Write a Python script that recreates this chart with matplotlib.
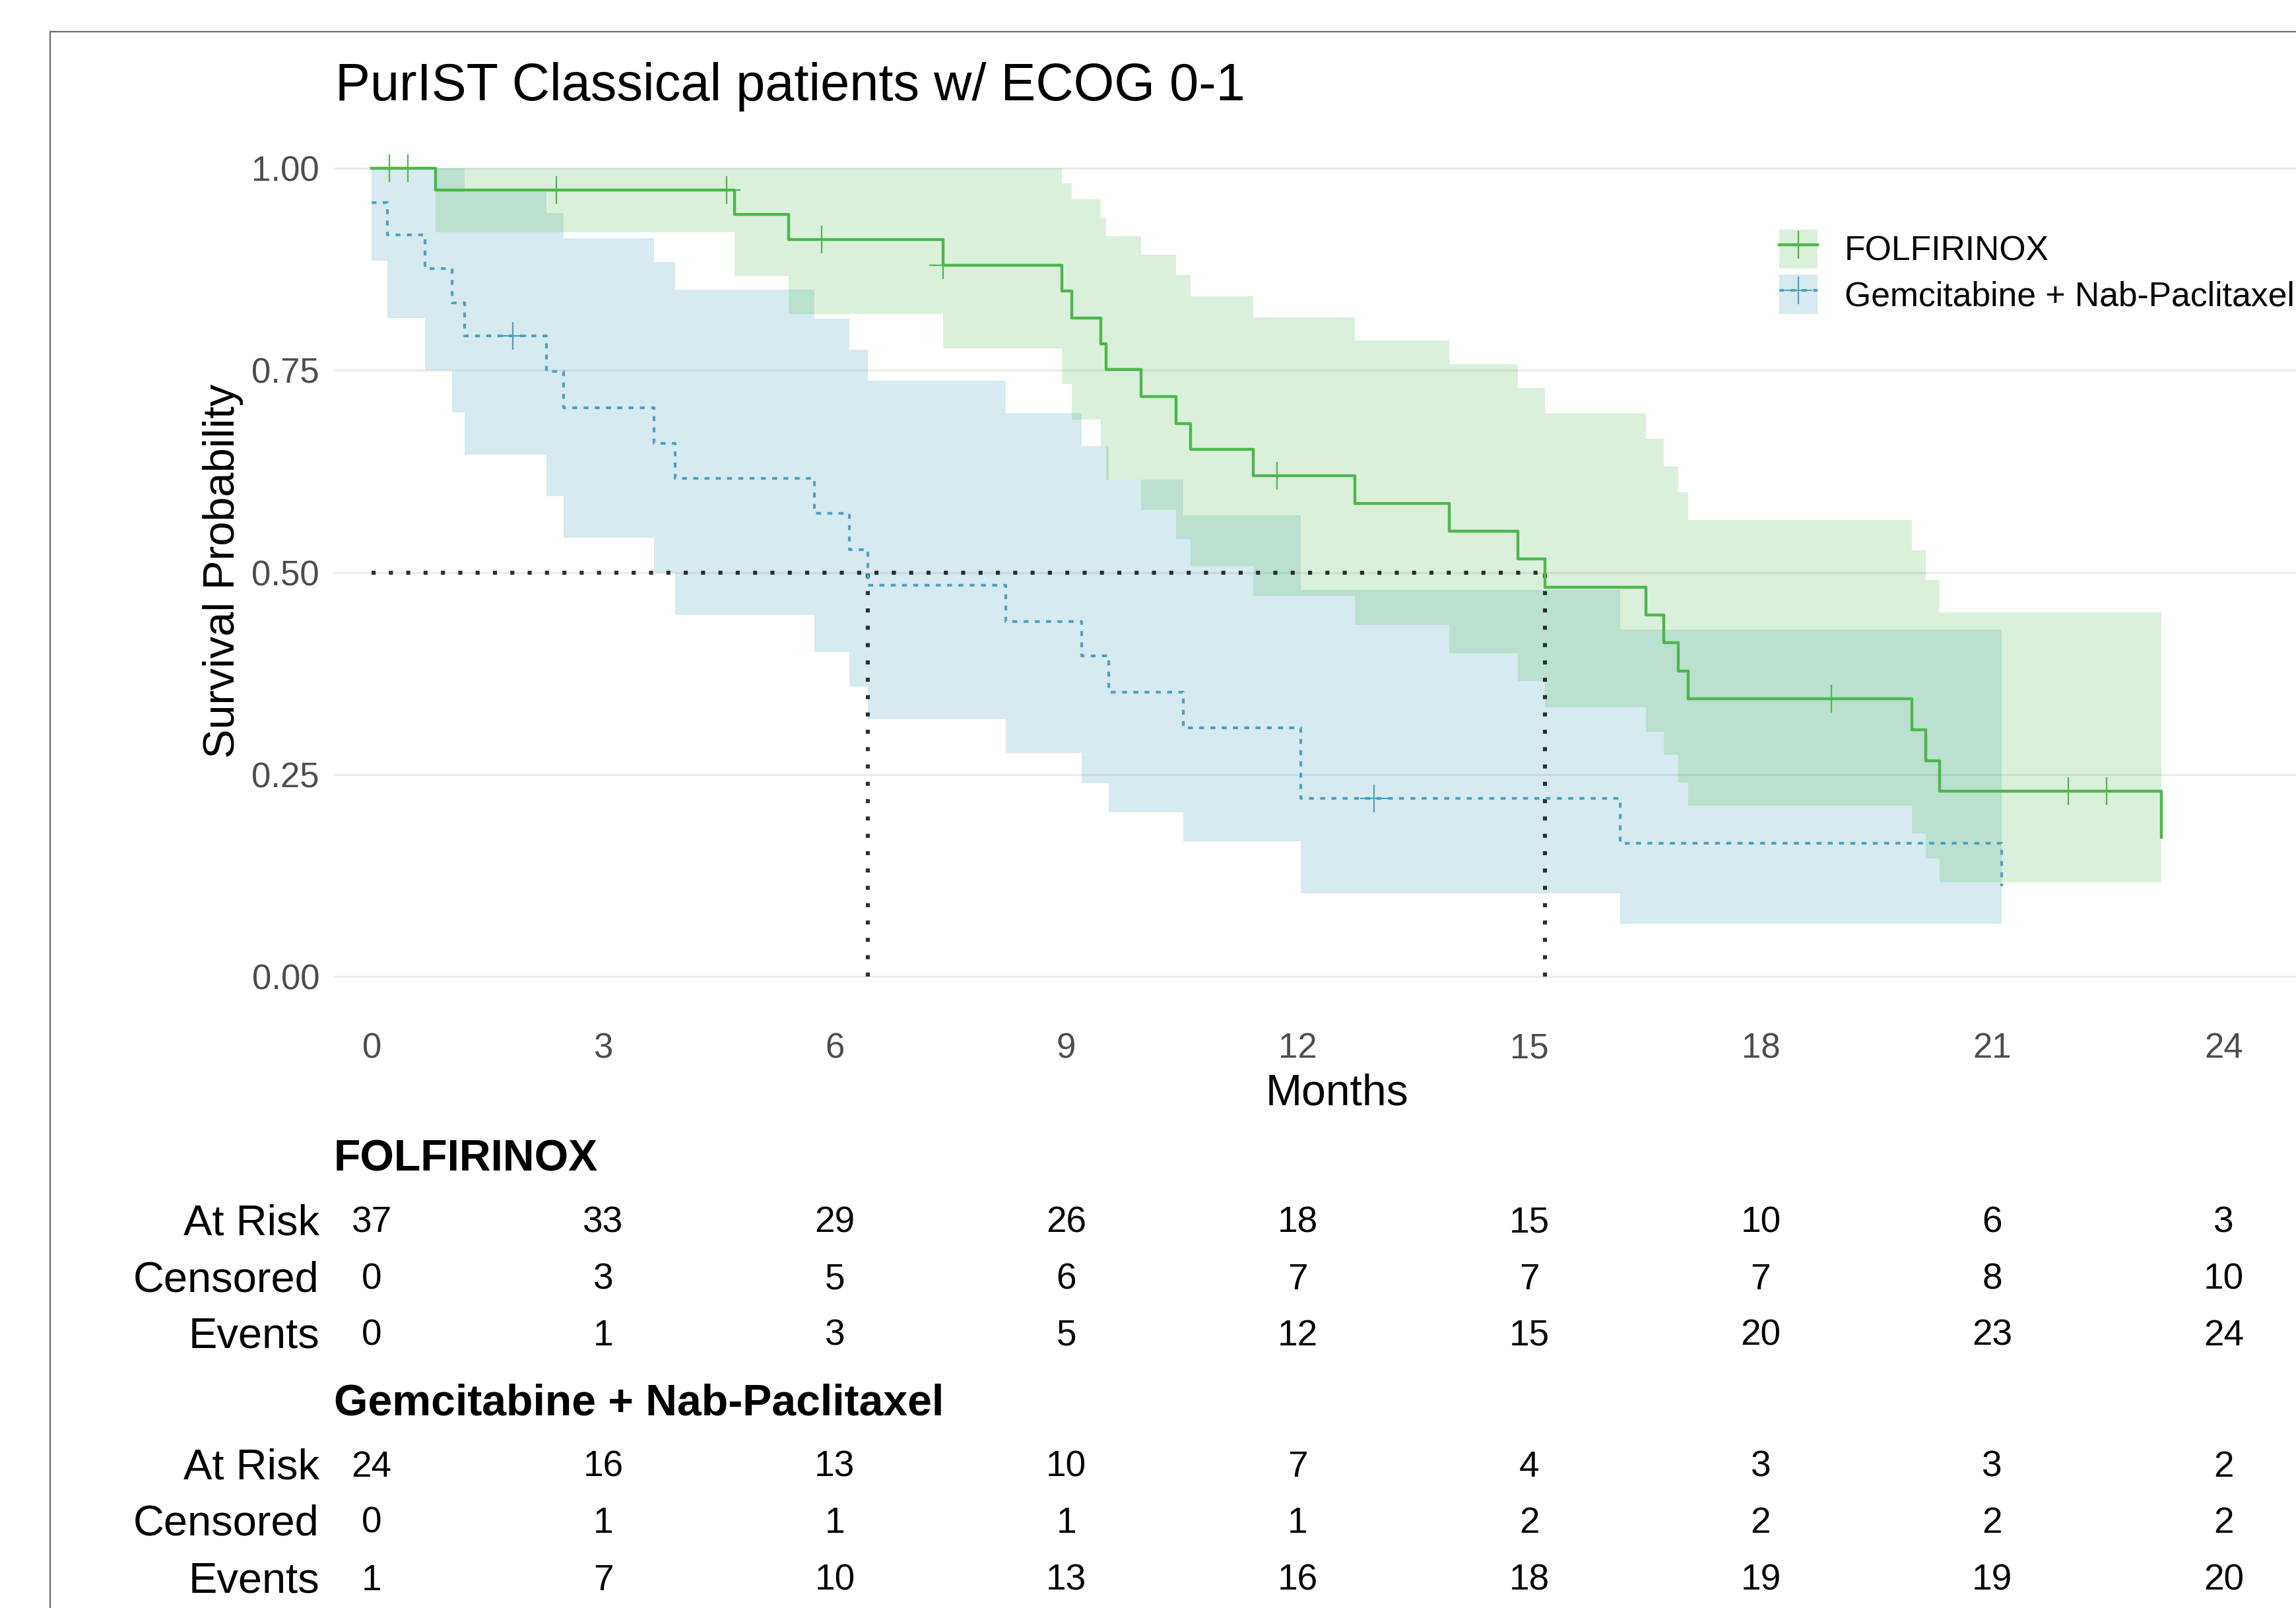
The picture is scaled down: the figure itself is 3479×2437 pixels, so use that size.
import numpy as np
import matplotlib
matplotlib.use('Agg')
import matplotlib.pyplot as plt
from matplotlib.lines import Line2D
from matplotlib.patches import Patch
from matplotlib.transforms import blended_transform_factory

plt.rcParams['font.family'] = ['Liberation Sans', 'DejaVu Sans']

# ---------------- data ----------------
groups = ["FOLFIRINOX", "Gemcitabine + Nab-Paclitaxel"]

# FOLFIRINOX Kaplan-Meier step curve with 95% CI
g_time = [0, 0.83, 4.70, 5.40, 7.40, 8.94, 9.07, 9.45, 9.52, 9.97, 10.42, 10.61,
          11.42, 12.74, 13.96, 14.85, 15.20, 16.51, 16.74, 16.93, 17.06, 19.96,
          20.14, 20.32, 23.19]
g_surv = [1.0, 0.973, 0.943, 0.912, 0.880, 0.848, 0.815, 0.783, 0.751, 0.718,
          0.684, 0.652, 0.620, 0.585, 0.551, 0.517, 0.482, 0.447, 0.413, 0.378,
          0.344, 0.305, 0.267, 0.229, 0.172]
g_upper = [1.0, 1.0, 1.0, 1.0, 1.0, 0.981, 0.962, 0.939, 0.916, 0.893, 0.868,
           0.842, 0.816, 0.787, 0.758, 0.728, 0.697, 0.665, 0.631, 0.599, 0.565,
           0.527, 0.491, 0.451, 0.451]
g_lower = [1.0, 0.921, 0.867, 0.820, 0.777, 0.733, 0.689, 0.656, 0.615, 0.577,
           0.541, 0.508, 0.471, 0.435, 0.400, 0.366, 0.333, 0.303, 0.274, 0.240,
           0.211, 0.177, 0.146, 0.117, 0.117]
g_censor = [0.23, 0.47, 2.39, 4.60, 5.83, 7.40, 11.73, 18.92, 21.99, 22.48]

# Gemcitabine + Nab-Paclitaxel
b_time = [0, 0.20, 0.69, 1.04, 1.20, 2.26, 2.49, 3.66, 3.93, 5.74, 6.19, 6.43,
          8.22, 9.20, 9.55, 10.52, 12.04, 16.18, 21.12]
b_surv = [0.958, 0.918, 0.876, 0.834, 0.793, 0.749, 0.704, 0.660, 0.616, 0.573,
          0.528, 0.484, 0.439, 0.397, 0.352, 0.308, 0.220, 0.165, 0.112]
b_upper = [1.0, 1.0, 1.0, 1.0, 0.971, 0.945, 0.914, 0.884, 0.850, 0.814, 0.776,
           0.737, 0.697, 0.656, 0.615, 0.571, 0.478, 0.429, 0.429]
b_lower = [0.886, 0.815, 0.750, 0.698, 0.646, 0.594, 0.543, 0.500, 0.447, 0.402,
           0.358, 0.318, 0.277, 0.239, 0.203, 0.167, 0.103, 0.065, 0.065]
b_censor = [1.83, 12.99]

month_ticks = [0, 3, 6, 9, 12, 15, 18, 21, 24]
y_ticks = [0.0, 0.25, 0.50, 0.75, 1.00]
y_ticklabels = ["0.00", "0.25", "0.50", "0.75", "1.00"]

row_names = ["At Risk", "Censored", "Events"]
fol_at_risk = [37, 33, 29, 26, 18, 15, 10, 6, 3]
fol_censored = [0, 3, 5, 6, 7, 7, 7, 8, 10]
fol_events = [0, 1, 3, 5, 12, 15, 20, 23, 24]
gem_at_risk = [24, 16, 13, 10, 7, 4, 3, 3, 2]
gem_censored = [0, 1, 1, 1, 1, 2, 2, 2, 2]
gem_events = [1, 7, 10, 13, 16, 18, 19, 19, 20]

title = "PurIST Classical patients w/ ECOG 0-1"

# ---------------- style ----------------
GREEN = "#4CB84C"
BLUE_LINE = "#4AA3C6"
BLUE_FILL = "#3296B4"
MED_COL = "#2e2e2e"
TICK_COL = "#4d4d4d"

W, H, DPI = 3480, 2437, 200
fig = plt.figure(figsize=(W / DPI, H / DPI), dpi=DPI)
fig.patch.set_facecolor("white")


def fx(px):
    return px / W


def fy(py):
    return 1 - py / H


def pt2px(pt):
    return pt * DPI / 72.0


ax = fig.add_axes([fx(506), fy(1541), fx(3546) - fx(506), fy(194) - fy(1541)])
ax.set_xlim(-0.49, 25.51)
ax.set_ylim(-0.05, 1.05)
for sp in ax.spines.values():
    sp.set_visible(False)
ax.set_axisbelow(True)
ax.yaxis.grid(True, color="#ebebeb", lw=1.1)
ax.xaxis.grid(False)
ax.set_xticks(month_ticks)
ax.set_xticklabels([str(m) for m in month_ticks])
ax.set_yticks(y_ticks)
ax.set_yticklabels(y_ticklabels)
ax.tick_params(axis="x", length=0, pad=8.3, labelsize=19, labelcolor=TICK_COL)
ax.tick_params(axis="y", length=0, pad=7.9, labelsize=19, labelcolor=TICK_COL)

# confidence bands
ax.fill_between(b_time, b_lower, b_upper, step="post", color=BLUE_FILL,
                alpha=0.2, lw=0, zorder=1)
ax.fill_between(g_time, g_lower, g_upper, step="post", color=GREEN,
                alpha=0.2, lw=0, zorder=1.1)

# median lines
def median_time(t, s):
    t = np.asarray(t)
    s = np.asarray(s)
    return float(t[np.argmax(s <= 0.5)])

g_med = median_time(g_time, g_surv)
b_med = median_time(b_time, b_surv)
dot = (0, (1, 3.3))
ax.plot([0, max(g_med, b_med)], [0.5, 0.5], color=MED_COL, lw=2.2, ls=dot, zorder=2)
for m in (b_med, g_med):
    ax.plot([m, m], [0, 0.5], color=MED_COL, lw=2.2, ls=dot, zorder=2)

# survival curves
ax.step(g_time, g_surv, where="post", color=GREEN, lw=1.6, zorder=3)
ax.step(b_time, b_surv, where="post", color=BLUE_LINE, lw=1.5,
        ls=(0, (1.8, 2.3)), zorder=3)


def level_at(t_list, s_list, tc):
    idx = np.searchsorted(np.asarray(t_list), np.asarray(tc), side="right") - 1
    return np.asarray(s_list)[idx]

ax.plot(g_censor, level_at(g_time, g_surv, g_censor), ls="none", marker="+",
        ms=15, mew=0.8, color=GREEN, zorder=4)
ax.plot(b_censor, level_at(b_time, b_surv, b_censor), ls="none", marker="+",
        ms=15, mew=0.8, color=BLUE_LINE, zorder=4)

# legend
h1 = (Patch(facecolor=GREEN, alpha=0.2, edgecolor="none"),
      Line2D([], [], color=GREEN, lw=1.6, marker="+", ms=15, mew=0.8))
h2 = (Patch(facecolor=BLUE_FILL, alpha=0.2, edgecolor="none"),
      Line2D([], [], color=BLUE_LINE, lw=1.5, ls=(0, (1.8, 2.3)), marker="+",
             ms=15, mew=0.8))
fig.legend([h1, h2], groups, loc="upper left",
           bbox_to_anchor=(fx(2696), fy(348)), frameon=False, borderpad=0,
           borderaxespad=0, fontsize=18.6, handlelength=1.13, handleheight=1.39,
           labelspacing=0.175, handletextpad=0.78)

# titles / labels
def cap_text(x, yc_px, s, size, transform=None, **kw):
    yb = yc_px + 0.358 * pt2px(size)
    fig.text(x, fy(yb), s, fontsize=size, va="baseline",
             transform=transform if transform is not None else fig.transFigure, **kw)

cap_text(fx(508), 124, title, 28.6, ha="left", color="black")
cap_text(fx(2026), 1651, "Months", 23.8, ha="center", color="black")
fig.text(fx(338), fy(865), "Survival Probability", fontsize=24, rotation=90,
         ha="center", va="center", color="black")

# risk table
trans = blended_transform_factory(ax.transData, fig.transFigure)
tables = [
    (groups[0], 1751, [fol_at_risk, fol_censored, fol_events], [1848, 1934, 2019]),
    (groups[1], 2121, [gem_at_risk, gem_censored, gem_events], [2218, 2303, 2390]),
]
for name, hy, rows, rys in tables:
    cap_text(fx(506), hy, name, 23.8, ha="left", fontweight="bold", color="black")
    for rname, vals, ry in zip(row_names, rows, rys):
        cap_text(fx(484), ry, rname, 23.4, ha="right", color="black")
        for m, v in zip(month_ticks, vals):
            cap_text(m, ry, str(v), 19.8, transform=trans, ha="center", color="black")

# outer frame (cropped panel border)
fig.add_artist(Line2D([fx(76), fx(76)], [fy(48), 0], color="#6b6b6b", lw=0.8,
                      transform=fig.transFigure))
fig.add_artist(Line2D([fx(76), 1], [fy(48), fy(48)], color="#6b6b6b", lw=0.8,
                      transform=fig.transFigure))

fig.savefig("out.png", dpi=DPI, facecolor="white")
